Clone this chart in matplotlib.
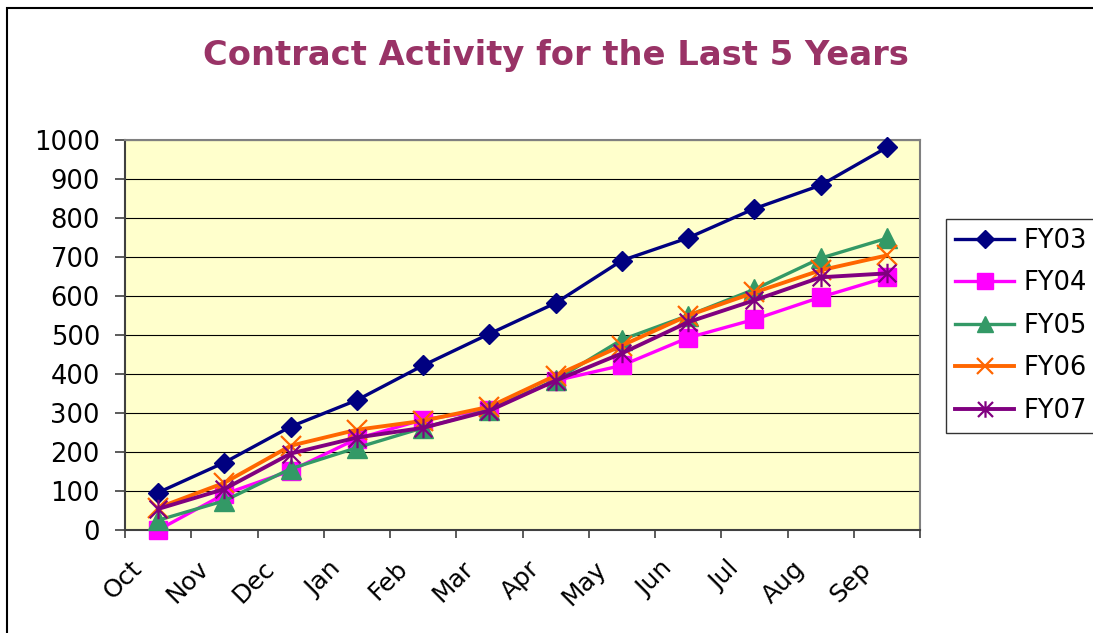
import matplotlib
matplotlib.use("Agg")
import matplotlib.pyplot as plt
import numpy as np
from matplotlib.path import Path
from matplotlib.patches import Rectangle
from matplotlib.transforms import ScaledTranslation

months = ["Oct", "Nov", "Dec", "Jan", "Feb", "Mar", "Apr", "May", "Jun", "Jul", "Aug", "Sep"]
fy03 = [96, 173, 265, 333, 422, 503, 582, 691, 749, 824, 884, 981]
fy04 = [0, 92, 152, 234, 283, 308, 383, 422, 493, 540, 597, 648]
fy05 = [25, 75, 157, 211, 262, 308, 385, 488, 550, 617, 697, 748]
fy06 = [57, 121, 216, 257, 280, 316, 396, 473, 550, 609, 666, 704]
fy07 = [54, 105, 196, 237, 262, 306, 383, 453, 533, 589, 648, 658]
series_names = ["FY03", "FY04", "FY05", "FY06", "FY07"]
yticks = [0, 100, 200, 300, 400, 500, 600, 700, 800, 900, 1000]

plt.rcParams['font.family'] = ['DejaVu Sans']

W, H = 1093, 633
fig = plt.figure(figsize=(W / 100, H / 100), dpi=100)
fig.patch.set_facecolor('white')

ax = fig.add_axes([125 / W, 1 - 530 / H, (920 - 125) / W, (530 - 140) / H])
ax.set_facecolor('#FFFFCC')

x = np.arange(len(months))

asterisk = Path([(-0.5, -0.5), (0.5, 0.5), (-0.5, 0.5), (0.5, -0.5), (0, -0.55), (0, 0.55)],
                [Path.MOVETO, Path.LINETO, Path.MOVETO, Path.LINETO, Path.MOVETO, Path.LINETO])

styles = [
    dict(color='#000080', marker='D', ms=10.5, lw=2.4, mec='#000080', mfc='#000080'),
    dict(color='#FF00FF', marker='s', ms=13, lw=2.4, mec='#FF00FF', mfc='#FF00FF'),
    dict(color='#339966', marker='^', ms=14, lw=2.4, mec='#339966', mfc='#339966'),
    dict(color='#FF6600', marker='x', ms=14, lw=2.8, mec='#FF6600', mew=1.6),
    dict(color='#800080', marker=asterisk, ms=14, lw=2.8, mec='#800080', mew=1.6),
]
data = [fy03, fy04, fy05, fy06, fy07]
handles = []
for name, vals, st in zip(series_names, data, styles):
    ln, = ax.plot(x, vals, label=name, clip_on=False, zorder=3, **st)
    handles.append(ln)

ax.set_xlim(-0.5, len(months) - 0.5)
ax.set_ylim(0, 1000)
ax.set_yticks(yticks)
ax.set_yticklabels([str(v) for v in yticks], fontsize=18.5)
ax.yaxis.grid(True, color='black', lw=0.8)
ax.set_axisbelow(True)

ax.set_xticks(np.arange(-0.5, len(months)), labels=[])
ax.set_xticks(x, labels=months, minor=True)
ax.tick_params(axis='x', which='major', length=6, width=1.2, color='#404040', direction='out')
ax.tick_params(axis='x', which='minor', length=0, pad=19)
ax.tick_params(axis='y', length=7, width=1.2, color='#404040', pad=11)
off = ScaledTranslation(-11 / 100, 0, fig.dpi_scale_trans)
for lab in ax.get_xticklabels(minor=True):
    lab.set_rotation(45)
    lab.set_ha('right')
    lab.set_va('top')
    lab.set_fontsize(18)
    lab.set_transform(lab.get_transform() + off)

for s in ['top', 'right']:
    ax.spines[s].set_color('#808080')
    ax.spines[s].set_linewidth(1.5)
for s in ['left', 'bottom']:
    ax.spines[s].set_color('#404040')
    ax.spines[s].set_linewidth(1.5)

fig.text(556 / W, 1 - 55 / H, "Contract Activity for the Last 5 Years", ha='center', va='center',
         fontsize=24.3, fontweight='bold', color='#993366', family='DejaVu Sans')

leg = fig.legend(handles=handles, labels=series_names, loc='upper left',
                 bbox_to_anchor=(946 / W, 1 - 219 / H), bbox_transform=fig.transFigure,
                 borderaxespad=0, fontsize=18.5, frameon=True, fancybox=False,
                 edgecolor='black', handlelength=2.3, handletextpad=0.35,
                 labelspacing=0.64, borderpad=0.35, markerscale=0.85)
leg.get_frame().set_linewidth(1.0)

fig.add_artist(Rectangle((7 / W, -0.1), 1.2, 1 - 8 / H + 0.1, transform=fig.transFigure,
                         fill=False, edgecolor='black', lw=1.5))

fig.savefig('out.png', dpi=100)
